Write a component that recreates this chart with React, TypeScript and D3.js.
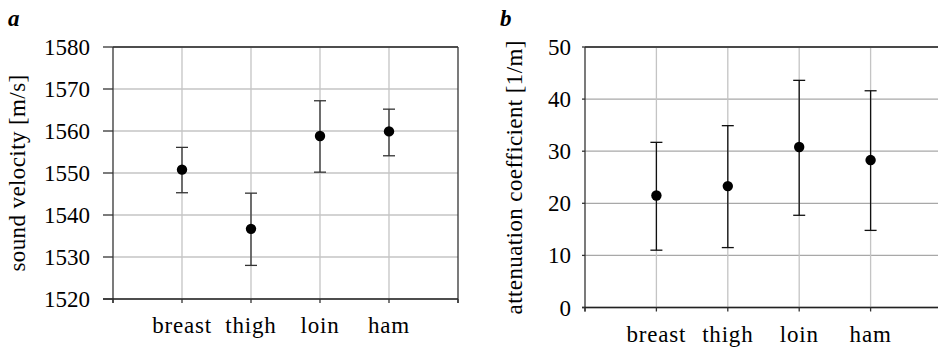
import React from "react";
import * as d3 from "d3";

const categories = ["breast", "thigh", "loin", "ham"];

// panel a: sound velocity [m/s]
const velocityMean = [1550.8, 1536.7, 1558.8, 1559.9];
const velocityLow = [1545.3, 1528.0, 1550.2, 1554.1];
const velocityHigh = [1556.1, 1545.2, 1567.2, 1565.2];
const velocityTicks = [1520, 1530, 1540, 1550, 1560, 1570, 1580];

// panel b: attenuation coefficient [1/m]
const attenMean = [21.5, 23.3, 30.8, 28.3];
const attenLow = [11.0, 11.5, 17.7, 14.8];
const attenHigh = [31.7, 34.9, 43.6, 41.6];
const attenTicks = [0, 10, 20, 30, 40, 50];

function Panel(p: any) {
  const x = d3.scalePoint().domain(categories).range([p.left, p.right]).padding(1);
  const y = d3.scaleLinear().domain(p.domain).range([p.bottom, p.top]);
  const step = x.step();
  const edges = [p.left, ...categories.map((c) => x(c)), p.left + step * 5];
  const mid = (p.top + p.bottom) / 2;

  return (
    <g>
      <text className="lbl" x={p.letterX} y={26} fontSize={23} fontWeight="bold" fontStyle="italic">
        {p.letter}
      </text>
      {p.ticks.map((t: number) => (
        <line key={"h" + t} x1={p.left} x2={p.right} y1={y(t)} y2={y(t)} stroke={p.hGrid} strokeWidth={1.3} />
      ))}
      {categories.map((c) => (
        <line key={"v" + c} x1={x(c)} x2={x(c)} y1={p.top} y2={p.bottom} stroke={p.vGrid} strokeWidth={1.3} />
      ))}
      <line x1={p.left} x2={p.right} y1={p.top} y2={p.top} stroke="#222" strokeWidth={1.3} />
      {p.rightBorder && (
        <line x1={p.right} x2={p.right} y1={p.top} y2={p.bottom + 4} stroke="#333" strokeWidth={1.3} />
      )}
      <line x1={p.left} x2={p.left} y1={p.top} y2={p.bottom + 4} stroke="#333" strokeWidth={1.3} />
      <line x1={p.left - p.tickLen} x2={p.right} y1={p.bottom} y2={p.bottom} stroke="#222" strokeWidth={1.3} />
      {p.ticks.map((t: number) => (
        <g key={"t" + t}>
          <line x1={p.left - p.tickLen} x2={p.left} y1={y(t)} y2={y(t)} stroke="#333" strokeWidth={1.3} />
          <text className="lbl" x={p.labelRight} y={y(t) + 8} textAnchor="end" fontSize={23}>
            {t}
          </text>
        </g>
      ))}
      {edges.map((e: number, i: number) => (
        <line key={"xt" + i} x1={e} x2={e} y1={p.bottom} y2={p.bottom + 4} stroke="#333" strokeWidth={1.3} />
      ))}
      {categories.map((c) => (
        <text className="lbl" key={"l" + c} x={x(c)} y={p.bottom + 34} textAnchor="middle" fontSize={23} letterSpacing={0.8}>
          {c}
        </text>
      ))}
      <text
        className="lbl"
        transform={`translate(${p.titleX},${mid}) rotate(-90)`}
        textAnchor="middle"
        fontSize={23}
        letterSpacing={0.4}
      >
        {p.title}
      </text>
      {categories.map((c, i) => {
        const cx = x(c) as number;
        return (
          <g key={"e" + c}>
            <line x1={cx} x2={cx} y1={y(p.low[i])} y2={y(p.high[i])} stroke={p.barColor} strokeWidth={1.3} />
            <line x1={cx - 6} x2={cx + 6} y1={y(p.low[i])} y2={y(p.low[i])} stroke={p.barColor} strokeWidth={1.3} />
            <line x1={cx - 6} x2={cx + 6} y1={y(p.high[i])} y2={y(p.high[i])} stroke={p.barColor} strokeWidth={1.3} />
            <circle cx={cx} cy={y(p.mean[i])} r={5.2} fill="#000" />
          </g>
        );
      })}
    </g>
  );
}

export default function App() {
  return (
    <svg width={938} height={348} fontFamily="Liberation Serif" style={{ position: "absolute", left: 0, top: 0 }}>
      <style>{`.lbl { font-family: "Liberation Serif", "Times New Roman", serif; }`}</style>
      <Panel
        letter="a"
        letterX={8}
        left={113}
        right={458}
        top={47}
        bottom={299}
        domain={[1520, 1580]}
        ticks={velocityTicks}
        mean={velocityMean}
        low={velocityLow}
        high={velocityHigh}
        title="sound velocity [m/s]"
        titleX={25}
        labelRight={90}
        tickLen={10}
        rightBorder={true}
        hGrid="#c4c4c4"
        vGrid="#c4c4c4"
        barColor="#333"
      />
      <Panel
        letter="b"
        letterX={500}
        left={585}
        right={942}
        top={47}
        bottom={307.5}
        domain={[0, 50]}
        ticks={attenTicks}
        mean={attenMean}
        low={attenLow}
        high={attenHigh}
        title="attenuation coefficient [1/m]"
        titleX={522}
        labelRight={571}
        tickLen={3}
        rightBorder={false}
        hGrid="#a8a8a8"
        vGrid="#c4c4c4"
        barColor="#111"
      />
    </svg>
  );
}
